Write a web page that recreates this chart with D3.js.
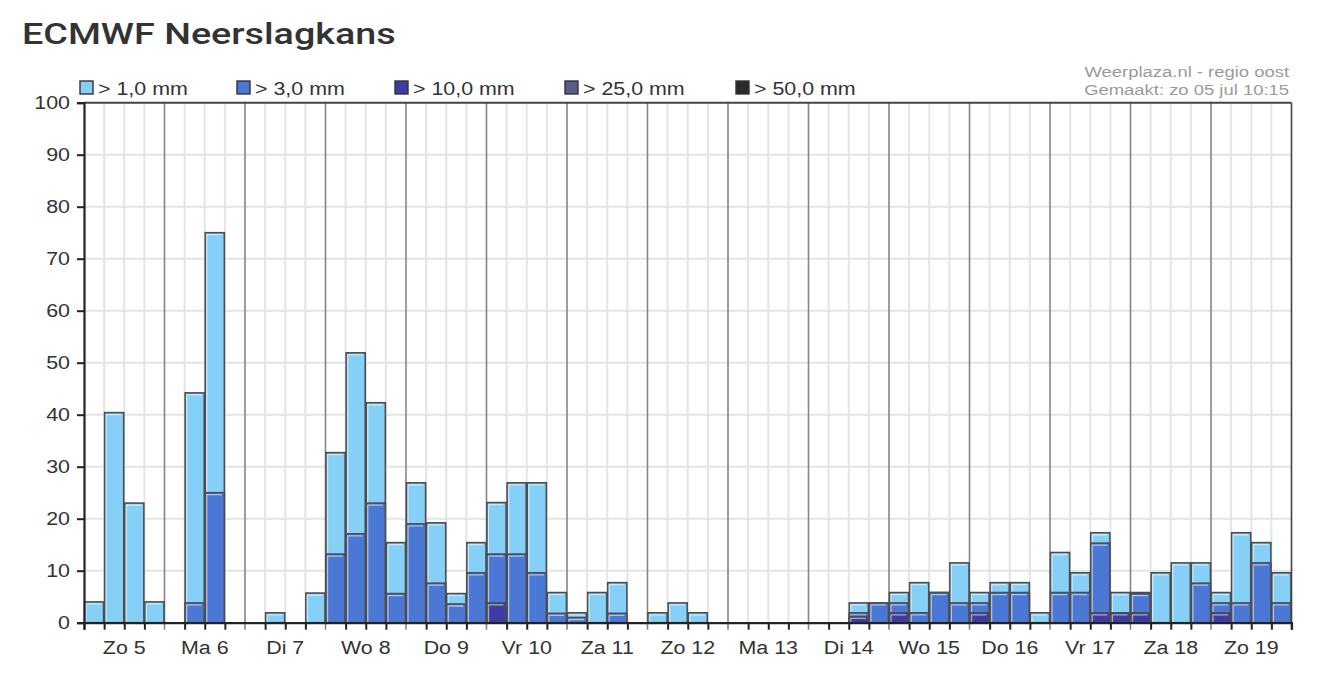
<!DOCTYPE html>
<html lang="nl">
<head>
  <title>ECMWF Neerslagkans</title>
  <script type="text/javascript" src="https://cdn.jsdelivr.net/npm/d3@7"></script>
  <style>
    body {
      margin: 0px;
      background: white;
    }
    svg {
      display: block;
    }
  </style>
</head>
<body>
  <script type="text/javascript">
    // Days, each split into 4 six-hour slots
    var days = ["Zo 5", "Ma 6", "Di 7", "Wo 8", "Do 9", "Vr 10", "Za 11", "Zo 12",
                "Ma 13", "Di 14", "Wo 15", "Do 16", "Vr 17", "Za 18", "Zo 19"];

    // Probability (%) per slot of precipitation above the threshold
    var p1 = [4, 40.4, 23, 4,   0, 44.2, 75, 0,   0, 1.9, 0, 5.7,   32.7, 51.9, 42.3, 15.4,
              26.9, 19.2, 5.6, 15.4,   23.1, 26.9, 26.9, 5.8,   1.9, 5.8, 7.7, 0,   1.9, 3.8, 1.9, 0,
              0, 0, 0, 0,   0, 0, 3.8, 3.8,   5.8, 7.7, 5.8, 11.5,   5.8, 7.7, 7.7, 1.9,
              13.5, 9.6, 17.3, 5.8,   5.8, 9.6, 11.5, 11.5,   5.8, 17.3, 15.4, 9.6];
    var p3 = [0, 0, 0, 0,   0, 3.8, 25, 0,   0, 0, 0, 0,   13.2, 17.1, 23.0, 5.6,
              19.0, 7.6, 3.6, 9.6,   13.2, 13.2, 9.6, 1.8,   1.0, 0, 1.8, 0,   0, 0, 0, 0,
              0, 0, 0, 0,   0, 0, 1.9, 3.8,   3.8, 1.9, 5.8, 3.8,   3.8, 5.8, 5.8, 0,
              5.8, 5.8, 15.3, 1.9,   5.6, 0, 0, 7.6,   3.8, 3.8, 11.5, 3.8];
    var p10 = [0, 0, 0, 0,   0, 0, 0, 0,   0, 0, 0, 0,   0, 0, 0, 0,
               0, 0, 0, 0,   3.8, 0, 0, 0,   0, 0, 0, 0,   0, 0, 0, 0,
               0, 0, 0, 0,   0, 0, 1.2, 0,   1.9, 0, 0, 0,   1.9, 0, 0, 0,
               0, 0, 1.9, 1.9,   1.9, 0, 0, 0,   1.9, 0, 0, 0];
    var p25 = d3.range(60).map(function() { return 0; });
    var p50 = d3.range(60).map(function() { return 0; });

    var legendLabels = ["> 1,0 mm", "> 3,0 mm", "> 10,0 mm", "> 25,0 mm", "> 50,0 mm"];
    var colors = ["#86cff6", "#4a78d4", "#3d3da3", "#5b5b8a", "#2a2a2a"];
    var yTicks = [0, 10, 20, 30, 40, 50, 60, 70, 80, 90, 100];

    var width = 1335;
    var height = 696;
    var slotsPerDay = 4;
    var nSlots = days.length * slotsPerDay;
    var stretch = 1.19;   // the original lettering is rendered wide

    var svg = d3.select("body").append("svg")
      .attr("width", width)
      .attr("height", height)
      .style("font-family", "'Liberation Sans', Arial, sans-serif");

    // text placed at (px, py) and widened horizontally
    function wideText(parent, px, py, sx) {
      return parent.append("text")
        .attr("transform", "translate(" + px + "," + py + ") scale(" + sx + ",1)");
    }

    // Title
    wideText(svg, 22, 44, 1.3)
      .attr("fill", "#333")
      .style("font-family", "Roboto, sans-serif")
      .style("font-weight", 500)
      .style("font-size", "29px")
      .text("ECMWF Neerslagkans");

    var x = d3.scaleLinear().domain([0, nSlots]).range([84, 1291.5]);
    var y = d3.scaleLinear().domain([0, 100]).range([622.7, 102.7]);

    // Grid: horizontal lines
    svg.append("g").selectAll("line")
      .data(yTicks.slice(1, -1))
      .enter().append("line")
      .attr("x1", x(0)).attr("x2", x(nSlots))
      .attr("y1", function(d) { return y(d); })
      .attr("y2", function(d) { return y(d); })
      .attr("stroke", "#e4e4e4")
      .attr("stroke-width", 2);

    // Grid: slot lines
    svg.append("g").selectAll("line")
      .data(d3.range(1, nSlots).filter(function(i) { return i % slotsPerDay != 0; }))
      .enter().append("line")
      .attr("x1", function(d) { return x(d); })
      .attr("x2", function(d) { return x(d); })
      .attr("y1", y(100)).attr("y2", y(0))
      .attr("stroke", "#e4e4e4")
      .attr("stroke-width", 2);

    // Day separators (reach a bit below the axis)
    svg.append("g").selectAll("line")
      .data(d3.range(1, days.length))
      .enter().append("line")
      .attr("x1", function(d) { return x(d * slotsPerDay); })
      .attr("x2", function(d) { return x(d * slotsPerDay); })
      .attr("y1", y(100)).attr("y2", y(0) + 7)
      .attr("stroke", "#858585")
      .attr("stroke-width", 1.6);

    // Bars: each threshold drawn over the previous, all from zero
    var series = [p1, p3, p10, p25, p50];
    series.forEach(function(values, s) {
      var g = svg.append("g");
      var bars = values.map(function(v, i) { return {i: i, v: v}; })
        .filter(function(d) { return d.v > 0; });
      g.selectAll("rect.bar")
        .data(bars)
        .enter().append("rect")
        .attr("class", "bar")
        .attr("x", function(d) { return x(d.i) + 0.5; })
        .attr("width", function(d) { return x(d.i + 1) - x(d.i) - 1; })
        .attr("y", function(d) { return y(d.v); })
        .attr("height", function(d) { return y(0) - y(d.v); })
        .attr("fill", colors[s])
        .attr("stroke", "#4d4d4d")
        .attr("stroke-width", 1.6);
      // light inner edge
      g.selectAll("path.hl")
        .data(bars.filter(function(d) { return y(0) - y(d.v) > 4; }))
        .enter().append("path")
        .attr("class", "hl")
        .attr("d", function(d) {
          var x0 = x(d.i) + 2, x1 = x(d.i + 1) - 3, y0 = y(d.v) + 2;
          return "M" + x0 + "," + (y(0) - 1) + "L" + x0 + "," + y0 + "L" + x1 + "," + y0;
        })
        .attr("fill", "none")
        .attr("stroke", "rgba(255,255,255,0.55)")
        .attr("stroke-width", 1.3);
    });

    // Plot frame: top and right
    svg.append("line")
      .attr("x1", x(0)).attr("x2", x(nSlots))
      .attr("y1", y(100)).attr("y2", y(100))
      .attr("stroke", "#444").attr("stroke-width", 2);
    svg.append("line")
      .attr("x1", x(nSlots)).attr("x2", x(nSlots))
      .attr("y1", y(100)).attr("y2", y(0) + 7)
      .attr("stroke", "#444").attr("stroke-width", 1.6);

    // Y axis
    var yAxis = d3.axisLeft(y)
      .tickValues(yTicks)
      .tickSize(7)
      .tickPadding(4);
    var gy = svg.append("g")
      .attr("transform", "translate(" + x(0) + ",0)")
      .call(yAxis);
    gy.select(".domain").attr("stroke", "#222").attr("stroke-width", 2.2);
    gy.selectAll(".tick line").attr("stroke", "#222").attr("stroke-width", 2);
    gy.selectAll(".tick text")
      .attr("x", -14 / stretch)
      .attr("transform", "scale(" + stretch + ",1)")
      .attr("fill", "#333")
      .style("font-size", "18px");

    // X axis: ticks on slot boundaries, day labels centred
    var xAxis = d3.axisBottom(x)
      .tickValues(d3.range(0, nSlots).filter(function(i) { return i % slotsPerDay != 0 || i == 0; }))
      .tickSize(7)
      .tickFormat("");
    var gx = svg.append("g")
      .attr("transform", "translate(0," + y(0) + ")")
      .call(xAxis);
    gx.select(".domain").attr("stroke", "#222").attr("stroke-width", 2.2);
    gx.selectAll(".tick line").attr("stroke", "#222").attr("stroke-width", 2);

    var gl = svg.append("g");
    days.forEach(function(d, i) {
      wideText(gl, x(i * slotsPerDay + slotsPerDay / 2), 654, stretch)
        .attr("text-anchor", "middle")
        .attr("fill", "#333")
        .style("font-size", "18px")
        .text(d);
    });

    // Legend
    var legendX = [80, 237, 395, 565, 736];
    var lg = svg.append("g");
    legendLabels.forEach(function(d, i) {
      lg.append("rect")
        .attr("x", legendX[i]).attr("y", 81)
        .attr("width", 13).attr("height", 13)
        .attr("fill", colors[i])
        .attr("stroke", "#333").attr("stroke-width", 1.4);
      wideText(lg, legendX[i] + 18, 95, stretch)
        .attr("fill", "#333")
        .style("font-size", "18px")
        .text(d);
    });

    // Source / timestamp
    wideText(svg, 1289, 77, stretch)
      .attr("text-anchor", "end")
      .attr("fill", "#9a9a9a")
      .style("font-size", "15.5px")
      .text("Weerplaza.nl - regio oost");
    wideText(svg, 1289, 95, stretch)
      .attr("text-anchor", "end")
      .attr("fill", "#9a9a9a")
      .style("font-size", "15.5px")
      .text("Gemaakt: zo 05 jul 10:15");
  </script>
</body>
</html>
